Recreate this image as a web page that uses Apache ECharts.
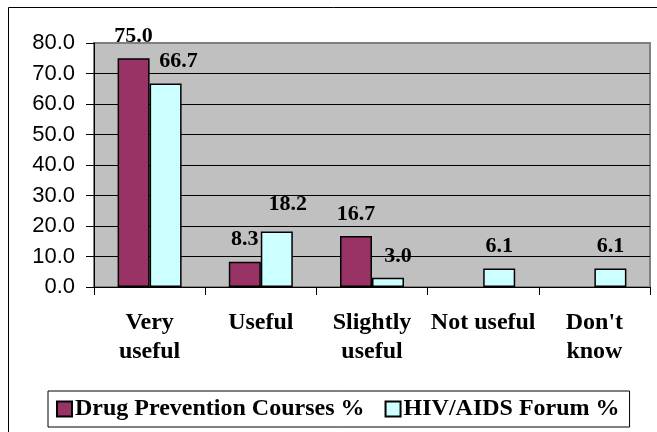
<!DOCTYPE html>
<html>
<head>
<meta charset="utf-8">
<script src="https://cdn.jsdelivr.net/npm/echarts@6/dist/echarts.min.js"></script>
<style>
html,body{margin:0;padding:0;background:#fff;}
#chart{width:657px;height:432px;}
</style>
</head>
<body>
<div id="chart"></div>
<script>
const categories = ['Very\nuseful', 'Useful', 'Slightly\nuseful', 'Not useful', "Don't\nknow"];
const drugPrevention = [75.0, 8.3, 16.7, null, null];
const hivForum = [66.7, 18.2, 3.0, 6.1, 6.1];
const seriesNames = ['Drug Prevention Courses %', 'HIV/AIDS Forum %'];
const yTicks = { min: 0, max: 80, interval: 10 };

// label nudges (style only)
const drugLabelNudge = {};
const hivLabelNudge = { 0: [13, 0], 1: [11, -5], 2: [10, 0] };

const serif = '"Liberation Serif", "Times New Roman", serif';
const sans = '"Liberation Sans", Arial, sans-serif';

function makeData(values, nudges) {
  return values.map((v, i) => {
    if (v === null) return { value: '-', label: { show: false } };
    const item = { value: v };
    if (nudges[i]) item.label = { offset: nudges[i] };
    return item;
  });
}

const labelStyle = {
  show: true,
  position: 'top',
  distance: 11,
  color: '#000',
  fontFamily: serif,
  fontWeight: 'bold',
  fontSize: 22,
  formatter: p => Number(p.value).toFixed(1)
};

const chart = echarts.init(document.getElementById('chart'), null, { renderer: 'canvas' });
chart.setOption({
  animation: false,
  backgroundColor: '#fff',
  graphic: [{
    type: 'rect',
    shape: { x: 8.5, y: 7.5, width: 700, height: 500 },
    style: { fill: 'none', stroke: '#000', lineWidth: 1 },
    silent: true
  }],
  grid: {
    left: 94, right: 7, top: 43, bottom: 145,
    show: true,
    backgroundColor: '#C0C0C0',
    borderColor: '#808080',
    borderWidth: 2
  },
  legend: {
    left: 48, top: 391,
    padding: [6, 10, 6, 8],
    borderColor: '#000',
    borderWidth: 1,
    itemWidth: 15,
    itemHeight: 15,
    itemGap: 20,
    icon: 'rect',
    textStyle: { fontFamily: serif, fontWeight: 'bold', fontSize: 24, color: '#000', padding: [0, 0, 0, -2] },
    data: seriesNames
  },
  xAxis: {
    type: 'category',
    data: categories,
    axisLine: { lineStyle: { color: '#000', width: 1 } },
    axisTick: { show: true, length: 8, alignWithLabel: false, lineStyle: { color: '#000' } },
    axisLabel: {
      interval: 0,
      margin: 21,
      color: '#000',
      fontFamily: serif,
      fontWeight: 'bold',
      fontSize: 24,
      lineHeight: 29
    },
    splitLine: { show: false }
  },
  yAxis: {
    type: 'value',
    min: yTicks.min, max: yTicks.max, interval: yTicks.interval,
    axisLine: { show: true, lineStyle: { color: '#000', width: 1 } },
    axisTick: { show: true, length: 8, lineStyle: { color: '#000' } },
    axisLabel: {
      margin: 19,
      color: '#000',
      fontFamily: sans,
      fontSize: 22,
      formatter: v => v.toFixed(1)
    },
    splitLine: { show: true, lineStyle: { color: ['#000','#000','#000','#000','#000','#000','#000','#000','#808080'], width: 1 } }
  },
  series: [
    {
      name: seriesNames[0],
      type: 'bar',
      data: makeData(drugPrevention, drugLabelNudge),
      barWidth: 32,
      barGap: '0%',
      itemStyle: { color: '#993366', borderColor: '#000', borderWidth: 1.5 },
      label: labelStyle
    },
    {
      name: seriesNames[1],
      type: 'bar',
      data: makeData(hivForum, hivLabelNudge),
      barWidth: 32,
      barGap: '0%',
      itemStyle: { color: '#CCFFFF', borderColor: '#000', borderWidth: 1.5 },
      label: labelStyle
    }
  ]
});
</script>
</body>
</html>
